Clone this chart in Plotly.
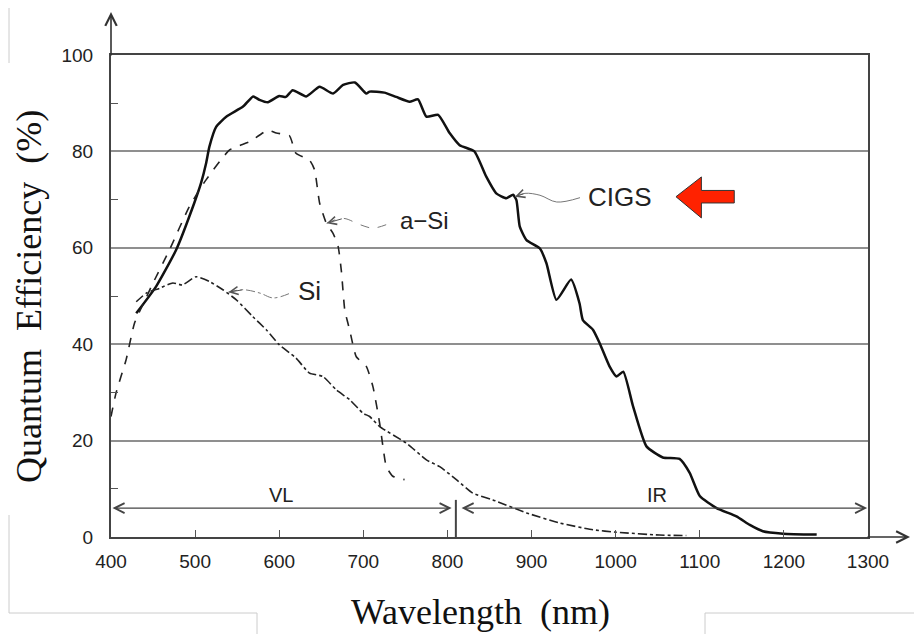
import plotly.graph_objects as go

# ---------------- data ----------------
cigs_wl = [430, 453.7, 477.5, 499, 507, 513, 517, 525, 537, 557, 569, 576.5, 586.5, 600, 608, 616,
           632, 648, 664, 676, 690, 703.5, 707.5, 725, 739, 755, 765, 775, 789, 802.6, 814.5, 832,
           846, 858, 870, 878, 882, 886, 894, 909.7, 917.7, 929.6, 947, 957, 961, 973, 981, 992.7,
           1001, 1009, 1020.7, 1036.6, 1056, 1076, 1088, 1100, 1120, 1143.6, 1159.5, 1175, 1199, 1239]
cigs_qe = [46.4, 52, 59.6, 69.3, 73.4, 77.5, 81, 85.1, 87.2, 89.3, 91.4, 90.7, 90.2, 91.5, 91.3, 92.7,
           91.4, 93.4, 92, 93.8, 94.3, 92, 92.4, 92.2, 91.3, 90.3, 90.8, 87.2, 87.6, 83.8, 81.3, 80,
           74.8, 71.3, 70.3, 71, 69.9, 64.4, 61.6, 59.9, 56.8, 49.2, 53.4, 48.5, 45, 43, 40.2, 35.4,
           33.3, 34.3, 27.1, 18.8, 16.5, 16.2, 13.3, 8.5, 6.0, 4.3, 2.5, 1.2, 0.7, 0.5]

asi_wl = [400, 406, 418, 428, 440, 450, 469.6, 493, 513, 541, 564.7, 586.5, 596.5, 612, 620, 636,
          642, 648, 656, 664, 670, 674, 678, 683.7, 691.6, 703.5, 711.4, 719.4, 723.3, 727.3, 735, 749]
asi_qe = [25, 29.9, 36.8, 44.4, 49, 52.7, 59.6, 68.5, 74.1, 80.3, 82, 84.4, 83.8, 83.3, 79.6, 78.2,
          76.2, 69.3, 65.1, 63, 60.3, 55, 47, 43, 37.4, 35.4, 31.2, 23.6, 18.8, 14.6, 12.6, 11.9]

si_wl = [430, 442, 457.7, 473.5, 485, 501, 517, 533, 549, 568.7, 584.6, 600, 620, 636, 652, 668,
         683.7, 699.5, 707.5, 719.4, 751, 775, 790.8, 810.6, 830, 854, 894, 933.5, 973, 1001, 1052, 1084]
si_qe = [48.8, 50.6, 51.6, 52.7, 52.3, 54, 53, 51.3, 49.2, 45.7, 43, 39.9, 37.1, 34, 33.3, 30.5,
         28.5, 25.7, 25, 22.9, 19.5, 16, 14.6, 11.9, 9.1, 7.7, 5.0, 2.9, 1.5, 1.0, 0.4, 0.3]

x_ticks = [400, 500, 600, 700, 800, 900, 1000, 1100, 1200, 1300]
y_ticks = [0, 20, 40, 60, 80, 100]

# ---------------- figure ----------------
W, H = 922, 634
OFF = 8  # page body margin
PL, PR, PT, PB = 111, 868, 55, 537  # plot area in page pixels
PW, PH = PR - PL, PB - PT
L, T = PL - OFF, PT - OFF
R = W - (PR - OFF)
B = H - (PB - OFF)


def px(xp):
    return (xp - PL) / PW


def py(yp):
    return (PB - yp) / PH


fig = go.Figure()

fig.add_trace(go.Scatter(x=cigs_wl, y=cigs_qe, mode="lines",
                         line=dict(color="#111", width=2.5, shape="spline", smoothing=0.5),
                         showlegend=False, hoverinfo="skip"))
fig.add_trace(go.Scatter(x=asi_wl, y=asi_qe, mode="lines",
                         line=dict(color="#222", width=1.6, dash="dash", shape="spline", smoothing=0.5),
                         showlegend=False, hoverinfo="skip"))
fig.add_trace(go.Scatter(x=si_wl, y=si_qe, mode="lines",
                         line=dict(color="#222", width=1.6, dash="dashdot", shape="spline", smoothing=0.5),
                         showlegend=False, hoverinfo="skip"))

# leader lines (decorations)
leaders = [
    (dict(x=[880.3, 892.2, 910, 929.9, 957.6], y=[70.6, 71.3, 70.9, 69.5, 70.4]), "solid"),
    (dict(x=[656.4, 676.2, 696, 711.9, 735.6], y=[65.1, 66.1, 64.8, 64.1, 65.4]), "dash"),
    (dict(x=[539.5, 557.3, 577.1, 592.9, 613.2], y=[50.8, 51.3, 50.6, 49.6, 50.6]), "dashdot"),
]
for pts, dsh in leaders:
    fig.add_trace(go.Scatter(x=pts["x"], y=pts["y"], mode="lines",
                             line=dict(color="#777", width=1, dash=dsh, shape="spline"),
                             showlegend=False, hoverinfo="skip"))

annotations = []
for pts, _ in leaders:
    annotations.append(dict(x=pts["x"][0], y=pts["y"][0], ax=pts["x"][1], ay=pts["y"][1],
                            xref="x", yref="y", axref="x", ayref="y", text="", showarrow=True,
                            arrowhead=5, arrowsize=1.6, arrowwidth=1, arrowcolor="#555"))

lab_font = dict(family="Liberation Sans, Arial, sans-serif", color="#222")
annotations += [
    dict(x=964.7, y=70.6, text="CIGS", xanchor="left", yanchor="middle", showarrow=False,
         font=dict(size=26, **lab_font)),
    dict(x=741.2, y=65.6, text="a\u2212Si", xanchor="left", yanchor="middle", showarrow=False,
         font=dict(size=24, **lab_font)),
    dict(x=620, y=51, text="Si", xanchor="left", yanchor="middle", showarrow=False,
         font=dict(size=26, **lab_font)),
    dict(x=602, y=8.8, text="VL", showarrow=False, font=dict(size=20, **lab_font)),
    dict(x=1049, y=8.8, text="IR", showarrow=False, font=dict(size=20, **lab_font)),
    # VL / IR double arrows
    dict(x=805, y=6.0, ax=400, ay=6.0, xref="x", yref="y", axref="x", ayref="y", text="",
         showarrow=True, arrowside="end+start", arrowhead=5, startarrowhead=5,
         arrowsize=1.5, startarrowsize=1.5, arrowwidth=1.3, arrowcolor="#444"),
    dict(x=1299, y=6.0, ax=815, ay=6.0, xref="x", yref="y", axref="x", ayref="y", text="",
         showarrow=True, arrowside="end+start", arrowhead=5, startarrowhead=5,
         arrowsize=1.5, startarrowsize=1.5, arrowwidth=1.3, arrowcolor="#444"),
    # axis extension arrows
    dict(x=px(910), y=0, ax=-44, ay=0, xref="paper", yref="paper", text="", showarrow=True,
         arrowhead=5, arrowsize=1.4, arrowwidth=1.6, arrowcolor="#333"),
    dict(x=0, y=py(12), ax=0, ay=45, xref="paper", yref="paper", text="", showarrow=True,
         arrowhead=5, arrowsize=1.4, arrowwidth=1.6, arrowcolor="#333"),
    # axis titles
    dict(x=px(29), y=py(297), xref="paper", yref="paper", text="Quantum\u00a0 Efficiency\u00a0 (%)",
         textangle=-90, showarrow=False, xanchor="center", yanchor="middle",
         font=dict(family="Liberation Serif, Times New Roman, serif", size=36, color="#111")),
    dict(x=px(480), y=py(612), xref="paper", yref="paper", text="Wavelength\u00a0 (nm)",
         showarrow=False, xanchor="center", yanchor="middle",
         font=dict(family="Liberation Serif, Times New Roman, serif", size=36, color="#111")),
]

shapes = [
    # VL / IR separator
    dict(type="line", xref="x", yref="y", x0=810, x1=810, y0=0, y1=7.7,
         line=dict(color="#444", width=2)),
    # red arrow
    dict(type="path", xref="x", yref="y",
         path="M 1071.7 70.6 L 1101.9 74.7 L 1101.9 71.9 L 1141 71.9 L 1141 69.3 "
              "L 1101.9 69.3 L 1101.9 66.2 Z",
         fillcolor="#ff2200", line=dict(color="#333", width=1)),
]
# faint frames from the screenshot background
frame = dict(color="#cccccc", width=1)
for (x0, y0, x1, y1) in [(9, 8, 9, 63), (9, 515, 9, 613), (9, 613, 257, 613),
                         (257, 613, 257, 634), (705, 613, 922, 613), (705, 613, 705, 634)]:
    shapes.append(dict(type="line", xref="paper", yref="paper", x0=px(x0), x1=px(x1),
                       y0=py(y0), y1=py(y1), line=frame, layer="below"))

tick_font = dict(family="Liberation Sans, Arial, sans-serif", size=19, color="#222")
fig.update_layout(
    width=W, height=H, margin=dict(l=L, r=R, t=T, b=B, autoexpand=False),
    paper_bgcolor="white", plot_bgcolor="white",
    xaxis=dict(range=[400, 1300], tickvals=x_ticks, ticktext=[str(v) for v in x_ticks],
               showgrid=False, zeroline=False, showline=True, mirror=True,
               linecolor="#444", linewidth=2, ticks="inside", ticklen=7, tickwidth=1.3,
               tickcolor="#555", tickfont=tick_font, ticklabelstandoff=6),
    yaxis=dict(range=[0, 100], tickvals=y_ticks, ticktext=[str(v) for v in y_ticks],
               showgrid=True, gridcolor="#8f8f8f", gridwidth=2, zeroline=False,
               showline=True, mirror=True, linecolor="#444", linewidth=2, ticks="",
               tickfont=tick_font, ticklabelstandoff=12,
               minor=dict(tickvals=[10, 30, 50, 70, 90], ticks="inside", ticklen=7,
                          tickwidth=1.3, tickcolor="#555", showgrid=False)),
    annotations=annotations, shapes=shapes,
)

fig.write_html("out.html")
